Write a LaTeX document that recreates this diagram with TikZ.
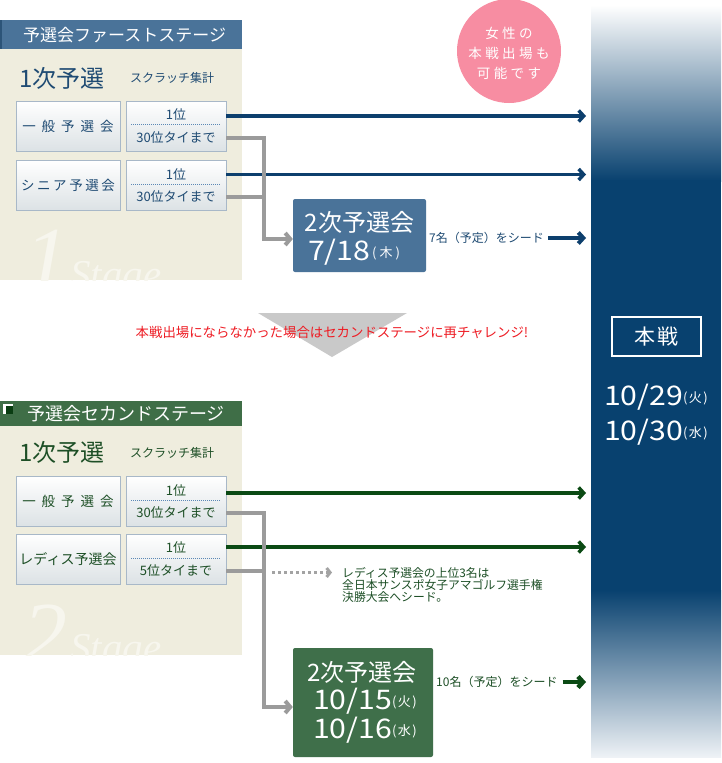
\documentclass[tikz,border=0pt]{standalone}
\usepackage{fontspec}
\setmainfont{Noto Sans CJK JP}
\newfontfamily\wide[FakeStretch=1.12]{Noto Sans CJK JP}
\newfontfamily\wmserif{Liberation Serif}
\usetikzlibrary{arrows.meta,calc}
\definecolor{hdrblue}{HTML}{4A7399}
\definecolor{hdredge}{HTML}{2C5478}
\definecolor{navy}{HTML}{08416F}
\definecolor{colbot}{HTML}{EEF2F6}
\definecolor{arrblue}{HTML}{0D3F6D}
\definecolor{txtblue}{HTML}{1F4B73}
\definecolor{beige}{HTML}{EFEDDE}
\definecolor{wmcol}{HTML}{F7F6EE}
\definecolor{hdrgreen}{HTML}{3F6E47}
\definecolor{icongreen}{HTML}{0A3D12}
\definecolor{boxgreen}{HTML}{3F6F4A}
\definecolor{arrgreen}{HTML}{0B4A14}
\definecolor{txtgreen}{HTML}{1D4F26}
\definecolor{conngray}{HTML}{9B9B9B}
\definecolor{dotgraycol}{HTML}{A3A3A3}
\definecolor{pinkc}{HTML}{F78DA2}
\definecolor{redtxt}{HTML}{EE1C24}
\definecolor{boxbord}{HTML}{A8B8C8}
\definecolor{boxbot}{HTML}{DCE2E5}
\definecolor{dotblue}{HTML}{5B88B5}
\definecolor{trigray}{HTML}{C9C9C9}
\newcommand\fsz[1]{\fontsize{#1}{#1}\selectfont}
\newcommand\dayof[2][1.5pt]{\raisebox{3pt}{\fsz{13}(\hspace{#1}#2\hspace{#1})}}
\begin{document}
\begin{tikzpicture}[x=1pt,y=-1pt,
  gbox/.style={draw=boxbord, line width=0.8pt, top color=white, bottom color=boxbot, minimum height=50pt, inner sep=0pt},
  tlab/.style={inner sep=0pt},
  wm/.style={text=wmcol, inner sep=0pt},
  bluarrow/.style={draw=arrblue, line width=3.5pt, -{Straight Barb[length=5pt,width=11pt]}},
  grnarrow/.style={draw=arrgreen, line width=3.5pt, -{Straight Barb[length=5pt,width=11pt]}},
  gline/.style={draw=conngray, line width=4pt},
  garrow/.style={gline, -{Straight Barb[length=5pt,width=12pt]}},
  dotarrow/.style={draw=dotgraycol, line width=3pt, dash pattern=on 3pt off 3pt, -{Straight Barb[length=3.5pt,width=9pt]}},
  sepline/.style={draw=dotblue, line width=0.8pt, dash pattern=on 1pt off 1pt}
]
\useasboundingbox (0,0) rectangle (721,763);
\fill[white] (0,0) rectangle (721,763);

% ---------- right column (main event) ----------
\shade[top color=white,bottom color=navy] (591,5) rectangle (721,181);
\fill[navy] (591,180) rectangle (721,591);
\shade[top color=navy,bottom color=colbot] (591,590) rectangle (721,757);
\node[draw=white, line width=1.5pt, minimum width=89pt, minimum height=39pt, inner sep=0pt, text=white, font=\fsz{21}] (hb) at (656.5,336.5) {本\hspace{3pt}戦};
\node[tlab, text=white] (hd1) at (656,397) {{\wide\fsz{27}10/29}\dayof{火}};
\node[tlab, text=white] (hd2) at (656,432) {{\wide\fsz{27}10/30}\dayof{水}};

% ---------- pink circle ----------
\node[circle, fill=pinkc, minimum size=104pt, inner sep=0pt] (pc) at (509,51) {};
\node[tlab, text=white, align=center, font=\fontsize{13.5}{20}\selectfont] (pct) at (509,53)
  {女\hspace{3.4pt}性\hspace{3.4pt}の\\本\hspace{3.4pt}戦\hspace{3.4pt}出\hspace{3.4pt}場\hspace{3.4pt}も\\可\hspace{3.4pt}能\hspace{3.4pt}で\hspace{3.4pt}す};

% ---------- stage 1 ----------
\fill[beige] (0,49) rectangle (242,280);
\begin{scope}
  \clip (0,49) rectangle (242,280);
  \node[wm, font=\wmserif\itshape\fsz{90}, anchor=base west] (wm1a) at (24,289) {1};
  \node[wm, font=\wmserif\itshape\fsz{41}, anchor=base west] (wm1b) at (70,288) {Stage};
\end{scope}
\fill[hdrblue] (0,20) rectangle (242,49);
\fill[hdredge] (0,20) rectangle (2,49);
\node[tlab, anchor=west, text=white, font=\fsz{17}] (h1) at (23,35) {予選会ファーストステージ};
\node[tlab, anchor=west, text=txtblue, font=\fsz{24}] (p1) at (19,78) {1次予選};
\node[tlab, anchor=west, text=txtblue, font=\fsz{12}] (sc1) at (130,78) {スクラッチ集計};

\node[gbox, minimum width=104pt, text=txtblue, font=\fsz{13.5}] (a1) at (68,126) {一\hspace{6pt}般\hspace{6pt}予\hspace{6pt}選\hspace{6pt}会};
\node[gbox, minimum width=100pt] (b1) at (176,126) {};
\node[tlab, text=txtblue, font=\fsz{13}] (b1u) at (176,115) {1位};
\node[tlab, text=txtblue, font=\fsz{13}] (b1d) at (176,138) {30位タイまで};
\draw[sepline] (131,124) -- (221,124);

\node[gbox, minimum width=104pt, text=txtblue, font=\fsz{13.5}] (a2) at (68,185.5) {シ\hspace{2.6pt}ニ\hspace{2.6pt}ア\hspace{2.6pt}予\hspace{2.6pt}選\hspace{2.6pt}会};
\node[gbox, minimum width=100pt] (b2) at (176,185.5) {};
\node[tlab, text=txtblue, font=\fsz{13}] (b2u) at (176,174.5) {1位};
\node[tlab, text=txtblue, font=\fsz{13}] (b2d) at (176,196.5) {30位タイまで};
\draw[sepline] (131,184) -- (221,184);

\node[fill=hdrblue, rounded corners=2pt, minimum width=133pt, minimum height=73pt, inner sep=0pt] (n2) at (359.5,235.5) {};
\node[tlab, text=white, font=\fsz{24}] (n2a) at (359.5,222) {2次予選会};
\node[tlab, text=white] (n2b) at (354,252) {{\wide\fsz{27}7/18}\hspace{2pt}\dayof[3pt]{木}};
\node[tlab, anchor=west, text=txtblue, font=\fsz{12}] (s1) at (429,238) {7名（予定）をシード};

\coordinate (e1) at (586,116);
\coordinate (e2) at (586,174.5);
\coordinate (e3) at (586,238);
\coordinate (k1) at (264,239);
\draw[bluarrow] (b1.east |- e1) -- (e1);
\draw[bluarrow] (b2.east |- e2) -- (e2);
\draw[bluarrow, line width=4pt] ([xshift=4pt]s1.east) -- (e3);
\draw[garrow] (b1.east |- b1d) -| (k1) -- (k1 -| n2.west);
\draw[gline] (b2.east |- b2d) -- ($(k1 |- b2d)+(2,0)$);

% ---------- transition ----------
\fill[trigray] (258,313) -- (407,313) -- (332,357) -- cycle;
\node[tlab, text=redtxt, font=\fsz{13.4}] (rt) at (332,332) {本戦出場にならなかった場合はセカンドステージに再チャレンジ!};

% ---------- stage 2 ----------
\fill[beige] (0,426) rectangle (242,655);
\begin{scope}
  \clip (0,426) rectangle (242,655);
  \node[wm, font=\wmserif\itshape\fsz{90}, anchor=base west] (wm2a) at (22,664) {2};
  \node[wm, font=\wmserif\itshape\fsz{41}, anchor=base west] (wm2b) at (70,661) {Stage};
\end{scope}
\fill[hdrgreen] (0,401) rectangle (242,426);
\fill[white] (3,403.5) rectangle (13,414);
\fill[icongreen] (5.5,406) rectangle (13,414);
\node[tlab, anchor=west, text=white, font=\fsz{18}] (h2) at (27,414) {予選会セカンドステージ};
\node[tlab, anchor=west, text=txtgreen, font=\fsz{24}] (p2) at (19,452.5) {1次予選};
\node[tlab, anchor=west, text=txtgreen, font=\fsz{12}] (sc2) at (130,453) {スクラッチ集計};

\node[gbox, minimum width=104pt, text=txtgreen, font=\fsz{13.5}] (a3) at (68,501) {一\hspace{6pt}般\hspace{6pt}予\hspace{6pt}選\hspace{6pt}会};
\node[gbox, minimum width=100pt] (b3) at (176,501) {};
\node[tlab, text=txtgreen, font=\fsz{13}] (b3u) at (176,490.5) {1位};
\node[tlab, text=txtgreen, font=\fsz{13}] (b3d) at (176,513) {30位タイまで};
\draw[sepline] (131,500.5) -- (221,500.5);

\node[gbox, minimum width=104pt, text=txtgreen, font=\fsz{14}] (a4) at (68,559) {レディス予選会};
\node[gbox, minimum width=100pt] (b4) at (176,559) {};
\node[tlab, text=txtgreen, font=\fsz{13}] (b4u) at (176,548) {1位};
\node[tlab, text=txtgreen, font=\fsz{13}] (b4d) at (176,571) {5位タイまで};
\draw[sepline] (131,558.5) -- (221,558.5);

\node[fill=boxgreen, rounded corners=2pt, minimum width=140pt, minimum height=109pt, inner sep=0pt] (n3) at (363,702.5) {};
\node[tlab, text=white, font=\fsz{24}] (n3a) at (362,672) {2次予選会};
\node[tlab, text=white] (n3b) at (365,701) {{\wide\fsz{27}10/15}\dayof{火}};
\node[tlab, text=white] (n3c) at (365,730) {{\wide\fsz{27}10/16}\dayof{水}};
\node[tlab, anchor=west, text=txtgreen, font=\fsz{12}] (s2) at (436,682) {10名（予定）をシード};

\node[tlab, anchor=west, align=left, text=txtgreen, font=\fontsize{11.8}{12.3}\selectfont] (nt) at (342,585)
  {レディス予選会の上位3名は\\全日本サンスポ女子アマゴルフ選手権\\決勝大会へシード。};

\coordinate (e4) at (586,493);
\coordinate (e5) at (586,547);
\coordinate (e6) at (586,682);
\coordinate (k2) at (264,707);
\coordinate (d0) at (272,572.5);
\coordinate (d1) at (332,572.5);
\draw[grnarrow] (b3.east |- e4) -- (e4);
\draw[grnarrow] (b4.east |- e5) -- (e5);
\draw[grnarrow, line width=4.5pt] ([xshift=5pt]s2.east) -- (e6);
\draw[garrow] (b3.east |- b3d) -| (k2) -- (k2 -| n3.west);
\draw[gline] (b4.east |- b4d) -- ($(k2 |- b4d)+(2,0)$);
\draw[dotarrow] (d0) -- (d1);
\end{tikzpicture}
\end{document}
